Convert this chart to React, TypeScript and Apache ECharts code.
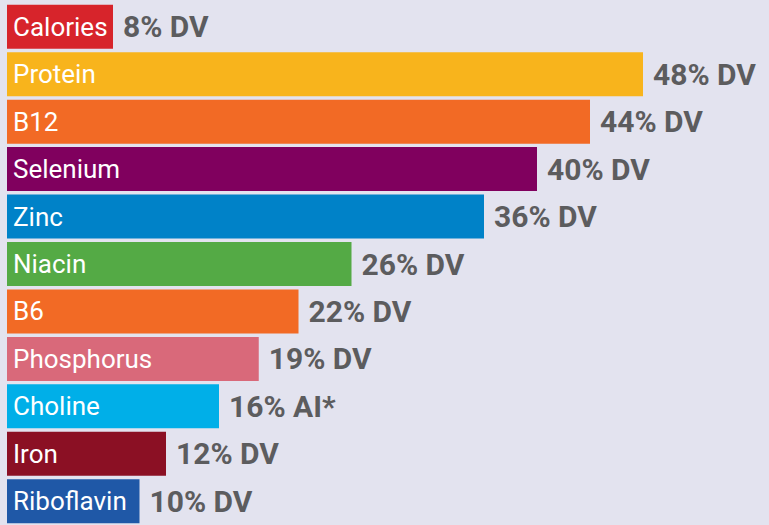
import React, { useEffect, useRef } from "react";
import * as echarts from "echarts";

const categories = ["Calories", "Protein", "B12", "Selenium", "Zinc", "Niacin", "B6", "Phosphorus", "Choline", "Iron", "Riboflavin"];
const percentValues = [8, 48, 44, 40, 36, 26, 22, 19, 16, 12, 10];
const units = ["DV", "DV", "DV", "DV", "DV", "DV", "DV", "DV", "AI*", "DV", "DV"];
const barColors = ["#d7242b", "#f8b41c", "#f26a25", "#80005e", "#0082c8", "#54aa45", "#f26a25", "#d9697a", "#00afe8", "#8b1024", "#1f58a7"];

const FONT = "Roboto, 'Noto Sans', sans-serif";

export default function App() {
  const ref = useRef<HTMLDivElement>(null);
  useEffect(() => {
    document.body.style.margin = "0";
    if (!ref.current) return;
    const chart = echarts.init(ref.current, undefined, { renderer: "svg" });
    chart.setOption({
      animation: false,
      backgroundColor: "#e3e3ef",
      grid: { left: 7, top: 3, width: 755.25, height: 530, containLabel: false },
      xAxis: { type: "value", min: 0, max: 57, show: false },
      yAxis: {
        type: "category",
        data: categories,
        inverse: true,
        show: false,
      },
      series: [
        {
          type: "bar",
          barWidth: 44,
          data: percentValues.map((v, i) => ({ value: v, itemStyle: { color: barColors[i] } })),
          label: {
            show: true,
            position: "insideLeft",
            distance: 6,
            formatter: (p: any) => p.name,
            color: "#ffffff",
            fontFamily: FONT,
            fontSize: 26,
            fontWeight: "normal",
          },
        },
        {
          type: "bar",
          barWidth: 44,
          barGap: "-100%",
          data: percentValues,
          itemStyle: { color: "rgba(0,0,0,0)" },
          label: {
            show: true,
            position: "right",
            distance: 10,
            formatter: (p: any) => `${p.value}% ${units[p.dataIndex]}`,
            color: "#5c5c5e",
            fontFamily: FONT,
            fontSize: 30,
            fontWeight: "bold",
          },
          silent: true,
        },
      ],
    });
    return () => chart.dispose();
  }, []);
  return <div ref={ref} style={{ width: 769, height: 525 }} />;
}
